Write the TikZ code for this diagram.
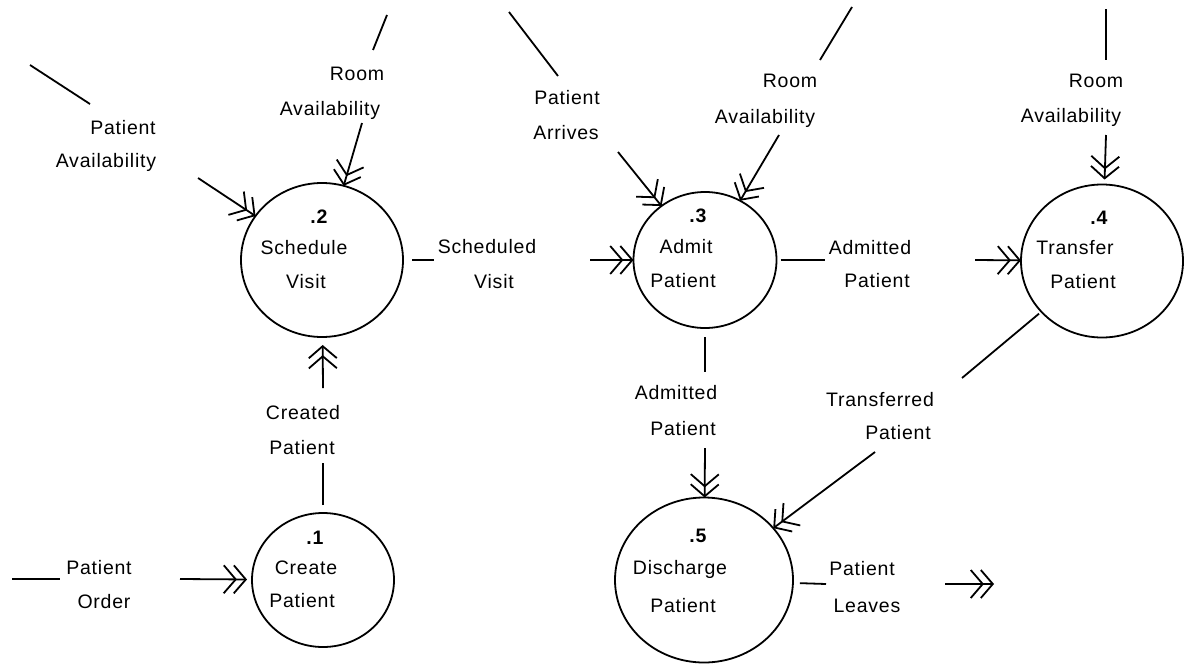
\documentclass[tikz,border=0pt]{standalone}
\usepackage{fontspec}
\setmainfont{Liberation Sans}[LetterSpace=4]
\usetikzlibrary{arrows.meta,shapes.geometric}
\tikzset{
  proc/.style={draw, ellipse, line width=1.8pt, inner sep=0pt, outer sep=0pt},
  txt/.style={font=\fontsize{19.5}{23}\selectfont, inner sep=0pt},
  num/.style={font=\fontsize{19.5}{23}\selectfont\bfseries, inner sep=0pt},
  flow/.style={line width=1.8pt},
  arr/.style={line width=1.8pt,
    -{Straight Barb[length=12pt,width=28pt,sep=-4pt] Straight Barb[length=12pt,width=28pt]}},
}
\begin{document}
\begin{tikzpicture}[x=1pt,y=-1pt]
\useasboundingbox (0,0) rectangle (1185,664);

% processes
\node[proc, minimum width=142pt, minimum height=134pt] (c1) at (323,580) {};
\node[proc, minimum width=162pt, minimum height=154pt] (c2) at (322,260) {};
\node[proc, minimum width=143pt, minimum height=136pt] (c3) at (705,260) {};
\node[proc, minimum width=162pt, minimum height=153pt] (c4) at (1102,261) {};
\node[proc, minimum width=178pt, minimum height=165pt] (c5) at (704,580) {};

% process texts
\node[num] (n1) at (315,538) {.1};
\node[txt] (n1a) at (306,568) {Create};
\node[txt] (n1b) at (302,601) {Patient};
\node[num] (n2) at (319,217) {.2};
\node[txt] (n2a) at (304,248) {Schedule};
\node[txt] (n2b) at (306,282) {Visit};
\node[num] (n3) at (698,216) {.3};
\node[txt] (n3a) at (686,247) {Admit};
\node[txt] (n3b) at (683,281) {Patient};
\node[num] (n4) at (1099,218) {.4};
\node[txt] (n4a) at (1075,248) {Transfer};
\node[txt] (n4b) at (1083,282) {Patient};
\node[num] (n5) at (698,536) {.5};
\node[txt] (n5a) at (680,569) {Discharge};
\node[txt] (n5b) at (683,606) {Patient};

% flow labels
\node[txt] (po1) at (99,568) {Patient};
\node[txt] (po2) at (104,602) {Order};
\node[txt] (cp1) at (303,413) {Created};
\node[txt] (cp2) at (302,448) {Patient};
\node[txt] (pa1) at (123,128) {Patient};
\node[txt] (pa2) at (106,162) {Availability};
\node[txt] (ra1) at (357,74) {Room};
\node[txt] (ra2) at (330,110) {Availability};
\node[txt] (sv1) at (487,247) {Scheduled};
\node[txt] (sv2) at (494,282) {Visit};
\node[txt] (par1) at (567,98) {Patient};
\node[txt] (par2) at (566,133) {Arrives};
\node[txt] (rb1) at (790,81) {Room};
\node[txt] (rb2) at (765,118) {Availability};
\node[txt] (ap1) at (870,248) {Admitted};
\node[txt] (ap2) at (877,281) {Patient};
\node[txt] (rc1) at (1096,81) {Room};
\node[txt] (rc2) at (1071,117) {Availability};
\node[txt] (tp1) at (880,400) {Transferred};
\node[txt] (tp2) at (898,433) {Patient};
\node[txt] (aq1) at (676,393) {Admitted};
\node[txt] (aq2) at (683,429) {Patient};
\node[txt] (pl1) at (862,569) {Patient};
\node[txt] (pl2) at (867,606) {Leaves};

% coordinates of free ends
\coordinate (poA) at (12,579);   \coordinate (poB) at (60,579);   \coordinate (poC) at (180,579);
\coordinate (cpB) at (323,463);  \coordinate (cpC) at (323,388);
\coordinate (paA) at (30,65);    \coordinate (paB) at (90,104);   \coordinate (paC) at (198,178);
\coordinate (raA) at (387,15);   \coordinate (raB) at (373,50);   \coordinate (raC) at (362,123);
\coordinate (svB) at (434,260);  \coordinate (svC) at (590,260);
\coordinate (parA) at (509,12);  \coordinate (parB) at (558,76);  \coordinate (parC) at (618,152);
\coordinate (rbA) at (852,7);    \coordinate (rbB) at (820,60);   \coordinate (rbC) at (779,135);
\coordinate (apB) at (825,260);  \coordinate (apC) at (975,260);
\coordinate (rcA) at (1106,9);   \coordinate (rcB) at (1106,60);  \coordinate (rcC) at (1106,135);
\coordinate (tpB) at (962,378);  \coordinate (tpC) at (875,452);
\coordinate (aqB) at (705,372);  \coordinate (aqC) at (705,448);
\coordinate (plB) at (826,584);  \coordinate (plC) at (945,584);  \coordinate (plD) at (994,584);

% flows
\draw[flow] (poA) -- (poB);
\draw[arr, shorten >=5pt] (poC) -- (c1);

\draw[flow, shorten <=8pt] (c1) -- (cpB);
\draw[arr, shorten >=8pt] (cpC) -- (c2);

\draw[flow] (paA) -- (paB);
\draw[arr] (paC) -- (c2);

\draw[flow] (raA) -- (raB);
\draw[arr] (raC) -- (c2);

\draw[flow, shorten <=9pt] (c2) -- (svB);
\draw[arr] (svC) -- (c3);

\draw[flow] (parA) -- (parB);
\draw[arr] (parC) -- (c3);

\draw[flow] (rbA) -- (rbB);
\draw[arr] (rbC) -- (c3);

\draw[flow, shorten <=4pt] (c3) -- (apB);
\draw[arr] (apC) -- (c4);

\draw[flow] (rcA) -- (rcB);
\draw[arr, shorten >=5pt] (rcC) -- (c4);

\draw[flow, shorten <=3pt] (c4) -- (tpB);
\draw[arr] (tpC) -- (c5);

\draw[flow, shorten <=9pt] (c3) -- (aqB);
\draw[arr] (aqC) -- (c5);

\draw[flow, shorten <=7pt] (c5) -- (plB);
\draw[arr] (plC) -- (plD);
\end{tikzpicture}
\end{document}
